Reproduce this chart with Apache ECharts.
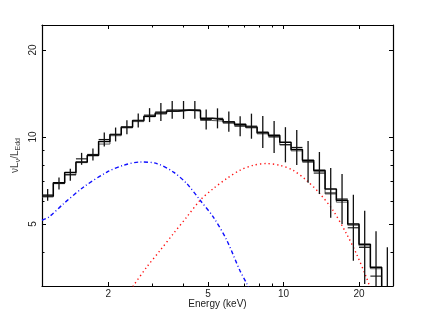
<!DOCTYPE html>
<html><head><meta charset="utf-8">
<script src="https://cdn.jsdelivr.net/npm/echarts@6/dist/echarts.min.js"></script>
<style>html,body{margin:0;padding:0;background:#fff}#c{width:436px;height:312px}</style>
</head><body><div id="c"></div>
<script>
// Energy bin edges (keV)
const binEdges = [1.088,1.207,1.340,1.486,1.649,1.830,2.031,2.253,2.500,2.774,3.078,3.415,3.790,4.205,4.666,5.177,5.745,6.375,7.073,7.848,8.709,9.663,10.72,11.90,13.20,14.65,16.25,18.04,20.01,22.21,24.64,27.34];
// folded model, main instrument (nuLnu/LEdd)
const modelMain = [6.25,6.95,7.53,8.19,8.64,9.64,10.19,10.83,11.4,11.8,12.1,12.3,12.4,12.35,11.6,11.5,11.27,11.06,10.83,10.35,10.14,9.58,9.05,8.3,7.67,6.6,6.04,5.0,4.25,3.54,2.9];
// folded model, second instrument
const modelAlt = [6.2,6.9,7.4,8.15,8.6,9.45,10.1,10.75,11.3,11.75,12.0,12.25,12.35,12.3,11.4,11.35,11.15,10.95,10.75,10.25,10.05,9.4,8.95,8.2,7.6,6.35,5.95,4.95,4.2,3.5,2.9];
// data points and error ranges
const dataY  = [6.3,6.9,7.4,8.4,8.7,9.8,10.2,10.8,11.4,11.9,12.2,12.4,12.4,12.4,11.5,11.6,11.3,10.9,10.9,10.4,10.0,9.4,9.2,8.2,7.5,6.4,6.1,4.85,4.15,3.3,2.8];
const dataLo = [6.01,6.58,7.05,8.01,8.29,9.27,9.65,10.22,10.79,11.26,11.36,11.55,11.55,11.55,10.62,10.71,10.43,10.06,9.86,9.15,8.80,8.17,8.00,6.94,6.35,5.25,5.00,3.73,3.10,2.31,1.74];
const dataHi = [6.61,7.24,7.76,8.81,9.13,10.36,10.78,11.42,12.05,12.58,13.10,13.32,13.32,13.32,12.45,12.56,12.24,11.80,12.04,11.81,11.36,10.81,10.58,9.69,8.87,7.81,7.44,6.31,5.56,4.72,4.15];
// blue dash-dot component
const blueE = [1.088,1.157,1.328,1.595,1.976,2.30,2.682,3.124,3.638,4.11,4.65,5.25,5.94,6.70,7.13,7.4];
const blueV = [5.15,5.28,5.88,6.71,7.56,7.98,8.19,8.09,7.56,6.90,6.04,5.28,4.39,3.45,3.11,2.9];
// red dotted component
const redE = [2.45,2.52,2.85,3.22,3.638,4.11,4.65,5.25,5.94,6.70,7.57,8.56,9.67,10.92,12.35,13.95,15.76,17.82,19.52,21.4,22.1,22.6];
const redV = [2.95,3.06,3.55,4.05,4.63,5.28,6.04,6.63,7.18,7.67,7.98,8.09,7.98,7.67,7.08,6.37,5.57,4.63,3.95,3.27,3.03,2.85];
// axis ticks
const xMajorTicks = [2,5,10,20];
const xMinorTicks = [3,4,6,7,8,9];
const yMajorTicks = [5,10,20];
const yMinorTicks = [4,6,7,8,9];

const X_MIN = 1.088, X_MAX = 27.34, Y_MIN = 3.05, Y_MAX = 24.4;
const FONT = 'Liberation Sans, Arial, Helvetica, sans-serif';

function stepData(vals) {
  const d = vals.map((v, i) => [binEdges[i], v]);
  d.push([binEdges[binEdges.length - 1], vals[vals.length - 1]]);
  return d;
}
const crossData = dataY.map((y, i) => {
  const lo = binEdges[i], hi = binEdges[i + 1];
  return [lo, hi, Math.sqrt(lo * hi), y, dataLo[i], dataHi[i]];
});

function xAx(pos, ticks, len, labels, line) {
  return {
    type: 'log', logBase: 10, min: X_MIN, max: X_MAX, position: pos,
    axisLine: { show: line, onZero: false, lineStyle: { color: '#000', width: 1.2 } },
    axisTick: { show: true, inside: true, length: len, customValues: ticks, lineStyle: { color: '#000', width: 1 } },
    axisLabel: labels ? { show: true, customValues: ticks, margin: 3, fontSize: 10, color: '#222', fontFamily: FONT } : { show: false },
    splitLine: { show: false }, minorTick: { show: false }
  };
}
function yAx(pos, ticks, len, labels, line) {
  return {
    type: 'log', logBase: 10, min: Y_MIN, max: Y_MAX, position: pos,
    axisLine: { show: line, onZero: false, lineStyle: { color: '#000', width: 1.2 } },
    axisTick: { show: true, inside: true, length: len, customValues: ticks, lineStyle: { color: '#000', width: 1 } },
    axisLabel: labels ? { show: true, customValues: ticks, rotate: 90, margin: 4, fontSize: 10, color: '#222', fontFamily: FONT } : { show: false },
    splitLine: { show: false }, minorTick: { show: false }
  };
}

const xAxes = [xAx('bottom', xMajorTicks, 4, true, true), xAx('bottom', xMinorTicks, 2.5, false, false),
               xAx('top', xMajorTicks, 4, false, true), xAx('top', xMinorTicks, 2.5, false, false)];
Object.assign(xAxes[0], { name: 'Energy (keV)', nameLocation: 'middle', nameGap: 13, nameMoveOverlap: false,
  nameTextStyle: { fontSize: 10, color: '#222', fontFamily: FONT } });
const yAxes = [yAx('left', yMajorTicks, 4, true, true), yAx('left', yMinorTicks, 2.5, false, false),
               yAx('right', yMajorTicks, 4, false, true), yAx('right', yMinorTicks, 2.5, false, false)];
Object.assign(yAxes[0], { name: '{a|νL}{s|ν}{a|/L}{s|Edd}', nameLocation: 'middle', nameGap: 20, nameRotate: 90, nameMoveOverlap: false,
  nameTextStyle: { color: '#444', fontFamily: FONT,
    rich: { a: { fontSize: 10, color: '#444', fontFamily: FONT, lineHeight: 14, verticalAlign: 'middle' },
            s: { fontSize: 7, color: '#444', fontFamily: FONT, lineHeight: 14, verticalAlign: 'bottom' } } } });

const chart = echarts.init(document.getElementById('c'), null, { renderer: 'canvas' });
chart.setOption({
  animation: false,
  backgroundColor: '#fff',
  grid: { left: 42, right: 43, top: 25, bottom: 26, containLabel: false, outerBoundsMode: 'none' },
  xAxis: xAxes,
  yAxis: yAxes,
  series: [
    { type: 'line', name: 'blue', data: blueE.map((e, i) => [e, blueV[i]]), smooth: 0.3, showSymbol: false, clip: true,
      lineStyle: { color: '#1010ff', width: 1.4, type: [4, 2.5, 1, 2.5] }, z: 2 },
    { type: 'line', name: 'red', data: redE.map((e, i) => [e, redV[i]]), smooth: 0.3, showSymbol: false, clip: true,
      lineStyle: { color: '#ff1010', width: 1.4, type: [1.3, 3] }, z: 2 },
    { type: 'line', name: 'modelAlt', data: stepData(modelAlt), step: 'end', showSymbol: false, clip: true,
      lineStyle: { color: '#555', width: 1 }, z: 3 },
    { type: 'line', name: 'modelMain', data: stepData(modelMain), step: 'end', showSymbol: false, clip: true,
      lineStyle: { color: '#000', width: 1.5 }, z: 4 },
    { type: 'custom', name: 'data', data: crossData, clip: true, z: 5,
      encode: { x: [0, 1, 2], y: [3, 4, 5] },
      renderItem: function (params, api) {
        const pL = api.coord([api.value(0), api.value(3)]);
        const pR = api.coord([api.value(1), api.value(3)]);
        const pB = api.coord([api.value(2), api.value(4)]);
        const pT = api.coord([api.value(2), api.value(5)]);
        return { type: 'group', children: [
          { type: 'line', shape: { x1: pL[0], y1: pL[1], x2: pR[0], y2: pR[1] }, style: { stroke: '#111', lineWidth: 1.1 } },
          { type: 'line', shape: { x1: pB[0], y1: pB[1], x2: pT[0], y2: pT[1] }, style: { stroke: '#111', lineWidth: 1.3 } }
        ] };
      } }
  ]
});
</script></body></html>
